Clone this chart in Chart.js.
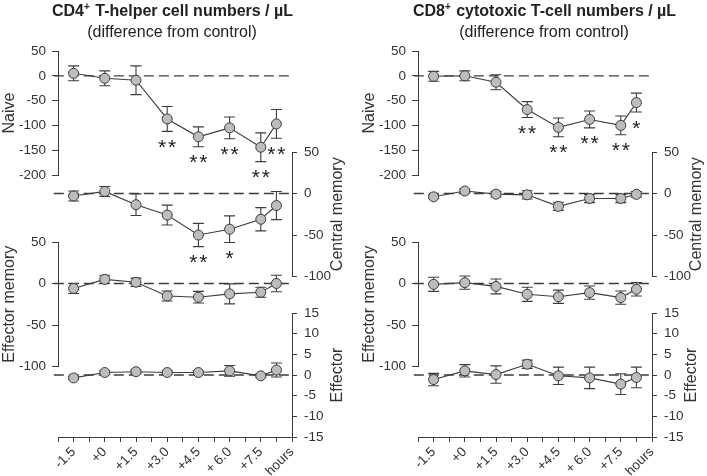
<!DOCTYPE html>
<html>
<head>
<meta charset="utf-8">
<script src="https://cdn.jsdelivr.net/npm/chart.js@4"></script>
<style>
html, body { margin: 0; padding: 0; background: #fff; }
#wrap { position: relative; width: 707px; height: 476px; }
#wrap canvas { position: absolute; left: 0; top: 0; }
</style>
</head>
<body>
<div id="wrap"></div>
<script>
// sampling times (hours relative to start), last one is the extra draw before "hours"
const hours = [-1.5, 0, 1.5, 3.0, 4.5, 6.0, 7.5, 8.25];
const xTickValues = [-1.5, 0, 1.5, 3, 4.5, 6, 7.5, 9];
const xTickLabels = ['-1.5', '+0', '+1.5', '+3.0', '+4.5', '+ 6.0', '+7.5', 'hours'];
const zeroLineX = [-2.45, 8.9];

// CD4+ T-helper cells
const cd4NaiveMean = [5, -5, -9, -87, -123, -105, -144, -97];
const cd4NaiveErr = [15, 15, 29, 25, 20, 22, 29, 29];
const cd4NaiveSig = ['', '', '', '**', '**', '**', '**', '**'];
const cd4CentralMean = [-3, 2.5, -13.5, -26, -50, -43, -31, -14.5];
const cd4CentralErr = [6, 6, 13, 12, 14, 16, 14, 17];
const cd4CentralSig = ['', '', '', '', '**', '*', '', ''];
const cd4EffMemMean = [-6, 5, 1.5, -15, -16.5, -12.5, -10.5, 0];
const cd4EffMemErr = [6, 5, 5, 6, 7, 12, 6, 10];
const cd4EffectorMean = [-0.7, 0.6, 0.8, 0.6, 0.6, 1.0, -0.2, 1.2];
const cd4EffectorErr = [0.3, 0.4, 0.4, 0.4, 0.4, 1.3, 0.4, 1.7];

// CD8+ cytotoxic T-cells
const cd8NaiveMean = [-1, 0, -13, -68, -104, -88, -100, -54];
const cd8NaiveErr = [10, 10, 15, 16, 19, 17, 19, 19];
const cd8NaiveSig = ['', '', '', '**', '**', '**', '**', '*'];
const cd8CentralMean = [-4, 3, -0.8, -1.6, -15.5, -6, -6, -1];
const cd8CentralErr = [2, 2.5, 3.5, 5, 5, 5, 5, 3.5];
const cd8EffMemMean = [-1, 1, -3.5, -13, -16, -11, -17, -7];
const cd8EffMemErr = [8.5, 8, 9, 8.5, 8, 8, 8, 8];
const cd8EffectorMean = [-1.1, 1.0, 0.1, 2.6, -0.2, -0.7, -2.2, -0.6];
const cd8EffectorErr = [1.5, 1.5, 2.1, 1.0, 2.1, 2.6, 2.5, 2.5];

const W = 707, H = 476;
const ink = '#3c3c3c';
const dotFill = '#bdbdbd';
const FONT = '"Liberation Sans", Arial, sans-serif';
Chart.defaults.font.family = FONT;

// error bars under the points, stars below the lower whisker
const errorBarPlugin = {
  id: 'errorBars',
  beforeDatasetsDraw(chart) {
    const ctx = chart.ctx;
    chart.data.datasets.forEach((ds, i) => {
      if (!ds.errors) return;
      const meta = chart.getDatasetMeta(i);
      const ys = chart.scales[meta.yAxisID];
      ctx.save();
      ctx.strokeStyle = ink;
      ctx.lineWidth = 1.1;
      meta.data.forEach((pt, j) => {
        const v = ds.data[j].y, e = ds.errors[j];
        const y1 = ys.getPixelForValue(v + e), y2 = ys.getPixelForValue(v - e);
        ctx.beginPath();
        ctx.moveTo(pt.x, y1); ctx.lineTo(pt.x, y2);
        ctx.moveTo(pt.x - 5.5, y1); ctx.lineTo(pt.x + 5.5, y1);
        ctx.moveTo(pt.x - 5.5, y2); ctx.lineTo(pt.x + 5.5, y2);
        ctx.stroke();
      });
      ctx.restore();
    });
  },
  afterDatasetsDraw(chart) {
    const ctx = chart.ctx;
    chart.data.datasets.forEach((ds, i) => {
      if (!ds.stars) return;
      const meta = chart.getDatasetMeta(i);
      const ys = chart.scales[meta.yAxisID];
      ctx.save();
      ctx.fillStyle = '#222';
      ctx.font = '21px ' + FONT;
      ctx.textAlign = 'center';
      ctx.textBaseline = 'alphabetic';
      meta.data.forEach((pt, j) => {
        const s = ds.stars[j];
        if (!s) return;
        const yb = ys.getPixelForValue(ds.data[j].y - ds.errors[j]) + 22.5;
        for (let k = 0; k < s.length; k++) {
          ctx.fillText(s[k], pt.x + (k - (s.length - 1) / 2) * 10, yb);
        }
      });
      ctx.restore();
    });
  }
};

// axis names, always read bottom-to-top
const sideTitlePlugin = {
  id: 'sideTitle',
  afterDraw(chart, args, o) {
    if (!o.text) return;
    const s = chart.scales.y, ctx = chart.ctx;
    const x = o.side === 'left' ? s.left + o.inset : s.right - o.inset;
    ctx.save();
    ctx.translate(x, (s.top + s.bottom) / 2);
    ctx.rotate(-Math.PI / 2);
    ctx.fillStyle = '#333';
    ctx.font = '16px ' + FONT;
    ctx.textAlign = 'center';
    ctx.textBaseline = 'middle';
    ctx.fillText(o.text, 0, 0);
    ctx.restore();
  }
};

// panel heading with superscript
const panelTitlePlugin = {
  id: 'panelTitle',
  afterDraw(chart, args, o) {
    if (!o.main) return;
    const ctx = chart.ctx, a = chart.chartArea;
    const cx = (a.left + a.right) / 2 + o.shift;
    const big = 'bold 16px ' + FONT, small = 'bold 10px ' + FONT;
    ctx.save();
    ctx.fillStyle = '#222';
    ctx.textAlign = 'left';
    ctx.textBaseline = 'alphabetic';
    ctx.font = big;
    const w1 = ctx.measureText(o.main).width, w3 = ctx.measureText(o.rest).width;
    ctx.font = small;
    const w2 = ctx.measureText(o.sup).width;
    let x = cx - (w1 + w2 + w3) / 2;
    const base = a.top - 35.5;
    ctx.font = big; ctx.fillText(o.main, x, base); x += w1;
    ctx.font = small; ctx.fillText(o.sup, x, base - 6); x += w2 + 1;
    ctx.font = big; ctx.fillText(o.rest, x, base);
    ctx.font = '16px ' + FONT;
    ctx.textAlign = 'center';
    ctx.fillText(o.sub, cx, a.top - 14);
    ctx.restore();
  }
};

const wrap = document.getElementById('wrap');
const X_HEIGHT = 38;

function makeChart(p) {
  const c = document.createElement('canvas');
  c.width = W; c.height = H;
  c.style.width = W + 'px'; c.style.height = H + 'px';
  wrap.appendChild(c);
  const a = p.area;
  const padding = {
    left: p.side === 'left' ? a.left - p.yWidth : a.left,
    right: p.side === 'right' ? W - a.right - p.yWidth : W - a.right,
    top: a.top,
    bottom: H - a.bottom - (p.showX ? X_HEIGHT : 0)
  };
  return new Chart(c, {
    type: 'line',
    data: {
      datasets: [
        {
          data: hours.map((h, i) => ({ x: h, y: p.mean[i] })),
          errors: p.err,
          stars: p.sig,
          borderColor: ink, borderWidth: 1.1,
          pointRadius: 5, pointBackgroundColor: dotFill,
          pointBorderColor: ink, pointBorderWidth: 1,
          tension: 0, clip: false, order: 1
        },
        {
          data: zeroLineX.map(x => ({ x: x, y: 0 })),
          borderColor: ink, borderWidth: 1.3, borderDash: [10, 5],
          pointRadius: 0, clip: false, order: 2
        }
      ]
    },
    options: {
      responsive: false, animation: false, devicePixelRatio: 1, events: [],
      layout: { padding: padding },
      plugins: {
        legend: { display: false },
        tooltip: { enabled: false },
        sideTitle: { text: p.name, side: p.side, inset: 10 },
        panelTitle: p.heading || {}
      },
      scales: {
        x: {
          type: 'linear', min: -2.25, max: 9, display: !!p.showX,
          ticks: {
            stepSize: 0.75, autoSkip: false, minRotation: 45, maxRotation: 45,
            color: '#333', font: { size: 13.5 }, padding: 2,
            callback: v => { const k = xTickValues.indexOf(v); return k < 0 ? '' : xTickLabels[k]; }
          },
          grid: { drawOnChartArea: false, drawTicks: true, tickLength: 5, color: ink },
          border: { color: ink, width: 1 },
          afterFit: s => { if (p.showX) s.height = X_HEIGHT; }
        },
        y: {
          type: 'linear', position: p.side, min: p.min, max: p.max,
          ticks: { stepSize: p.step, autoSkip: false, color: '#333', font: { size: 13.5 }, padding: p.side === 'left' ? 6 : 7 },
          grid: { drawOnChartArea: false, drawTicks: true, tickLength: p.side === 'left' ? 6 : 5, color: ink },
          border: { color: ink, width: 1 },
          afterFit: s => { s.width = p.yWidth; }
        }
      }
    },
    plugins: [errorBarPlugin, sideTitlePlugin, panelTitlePlugin]
  });
}

const panels = [
  { left: 58, right: 292, rightW: [56, 56], shift: -3,
    heading: { main: 'CD4', sup: '+', rest: ' T-helper cell numbers / µL', sub: '(difference from control)' },
    naive: [cd4NaiveMean, cd4NaiveErr, cd4NaiveSig],
    central: [cd4CentralMean, cd4CentralErr, cd4CentralSig],
    effMem: [cd4EffMemMean, cd4EffMemErr, null],
    effector: [cd4EffectorMean, cd4EffectorErr, null] },
  { left: 418, right: 652, rightW: [55, 50], shift: 9,
    heading: { main: 'CD8', sup: '+', rest: ' cytotoxic T-cell numbers / µL', sub: '(difference from control)' },
    naive: [cd8NaiveMean, cd8NaiveErr, cd8NaiveSig],
    central: [cd8CentralMean, cd8CentralErr, null],
    effMem: [cd8EffMemMean, cd8EffMemErr, null],
    effector: [cd8EffectorMean, cd8EffectorErr, null] }
];

panels.forEach(P => {
  const h = Object.assign({ shift: P.shift }, P.heading);
  makeChart({ area: { left: P.left, right: P.right, top: 51, bottom: 175 }, side: 'left', yWidth: 58,
    min: -200, max: 50, step: 50, name: 'Naive', heading: h,
    mean: P.naive[0], err: P.naive[1], sig: P.naive[2] });
  makeChart({ area: { left: P.left, right: P.right, top: 152, bottom: 276.5 }, side: 'right', yWidth: P.rightW[0],
    min: -100, max: 50, step: 50, name: 'Central memory',
    mean: P.central[0], err: P.central[1], sig: P.central[2] });
  makeChart({ area: { left: P.left, right: P.right, top: 242, bottom: 366.5 }, side: 'left', yWidth: 58,
    min: -100, max: 50, step: 50, name: 'Effector memory',
    mean: P.effMem[0], err: P.effMem[1], sig: P.effMem[2] });
  makeChart({ area: { left: P.left, right: P.right, top: 313, bottom: 437 }, side: 'right', yWidth: P.rightW[1],
    min: -15, max: 15, step: 5, name: 'Effector', showX: true,
    mean: P.effector[0], err: P.effector[1], sig: P.effector[2] });
});
</script>
</body>
</html>
